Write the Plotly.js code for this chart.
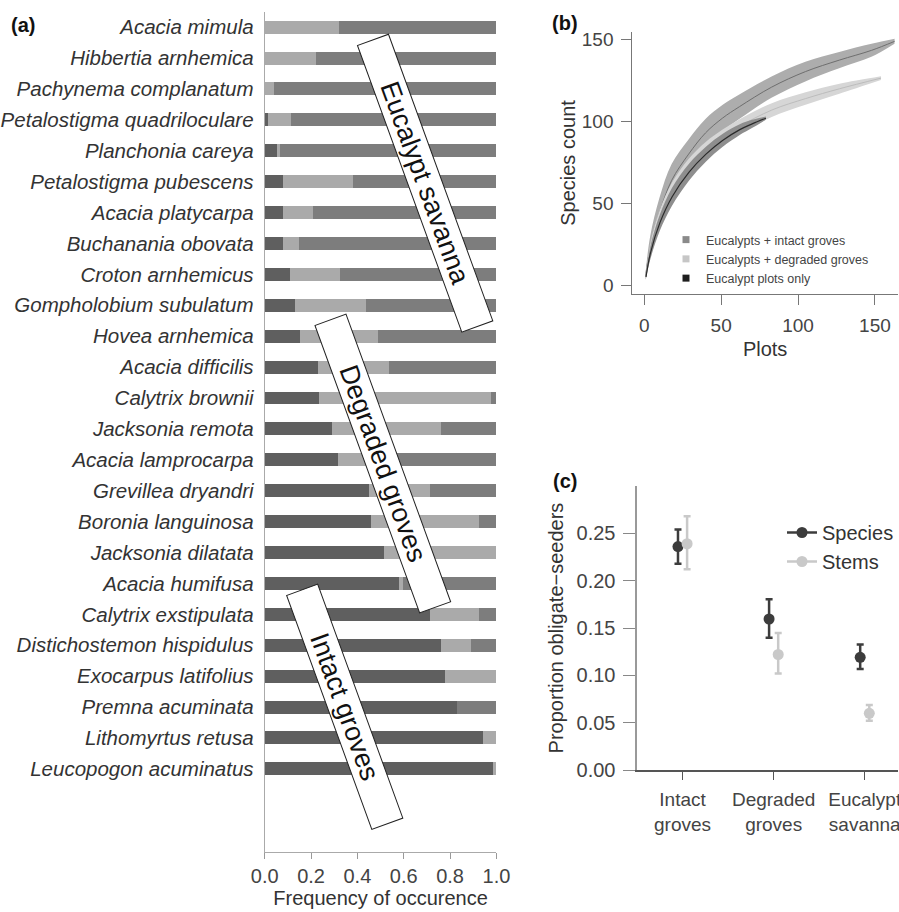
<!DOCTYPE html>
<html>
<head>
<meta charset="utf-8">
<script src="https://cdn.plot.ly/plotly-3.0.1.min.js"></script>
<style>html,body{margin:0;padding:0;background:#fff;}#chart{width:899px;height:912px;}</style>
</head>
<body>
<div id="chart"></div>
<script>
// ---------- Panel (a): frequency of occurrence ----------
const species = ["Acacia mimula","Hibbertia arnhemica","Pachynema complanatum","Petalostigma quadriloculare","Planchonia careya","Petalostigma pubescens","Acacia platycarpa","Buchanania obovata","Croton arnhemicus","Gompholobium subulatum","Hovea arnhemica","Acacia difficilis","Calytrix brownii","Jacksonia remota","Acacia lamprocarpa","Grevillea dryandri","Boronia languinosa","Jacksonia dilatata","Acacia humifusa","Calytrix exstipulata","Distichostemon hispidulus","Exocarpus latifolius","Premna acuminata","Lithomyrtus retusa","Leucopogon acuminatus"];
const freqIntact   = [0, 0, 0, 0.015, 0.055, 0.08, 0.08, 0.08, 0.107, 0.13, 0.153, 0.228, 0.235, 0.289, 0.316, 0.45, 0.46, 0.515, 0.58, 0.713, 0.762, 0.779, 0.83, 0.944, 0.984];
const freqDegraded = [0.32, 0.22, 0.04, 0.10, 0.012, 0.30, 0.13, 0.07, 0.22, 0.305, 0.336, 0.31, 0.742, 0.47, 0.164, 0.265, 0.465, 0.485, 0.017, 0.213, 0.13, 0.221, 0, 0.056, 0.016];
const freqEucalypt = [0.68, 0.78, 0.96, 0.885, 0.933, 0.62, 0.79, 0.85, 0.673, 0.565, 0.511, 0.462, 0.023, 0.241, 0.52, 0.285, 0.075, 0, 0.403, 0.074, 0.108, 0, 0.17, 0, 0];
const freqTicks = [0, 0.2, 0.4, 0.6, 0.8, 1.0];

// ---------- Panel (b): rarefaction curves ----------
const plotsIntact = [1, 4, 10, 18, 29, 40, 51, 62, 83, 105, 127, 148, 163];
const meanIntact  = [5, 23, 44, 64, 80, 93, 102, 109, 121, 130.5, 137.5, 143.5, 149];
const lowIntact   = [3, 16.5, 35, 54, 71, 84.5, 94, 101.5, 114.5, 124.5, 132.5, 139.5, 147.5];
const highIntact  = [7, 29.5, 53, 74, 89, 101.5, 110, 116.5, 127.5, 136.5, 142.5, 147.5, 150.5];

const plotsDegr = [1, 4, 10, 18, 29, 40, 51, 62, 83, 105, 127, 154];
const meanDegr  = [5, 21, 40, 57, 72, 82.5, 90.5, 97, 107, 114, 120, 126.5];
const lowDegr   = [3.5, 16.5, 34.5, 51.5, 66.8, 77.5, 85.9, 92.6, 102.8, 110.2, 116.9, 125.3];
const highDegr  = [6.5, 25.5, 45.5, 62.5, 77.2, 87.5, 95.1, 101.4, 111.2, 117.8, 123.1, 127.7];

const plotsEuc = [1, 4, 10, 18, 29, 40, 51, 62, 70, 79];
const meanEuc  = [5, 20, 38, 54, 69, 80, 88.5, 95, 98.5, 102];
const lowEuc   = [3.5, 16, 33, 48.5, 63.8, 75.4, 84.5, 91.7, 96, 101];
const highEuc  = [6.5, 24, 43, 59.5, 74.2, 84.6, 92.5, 98.3, 101, 103];
const rarefNames = ["Eucalypts + intact groves", "Eucalypts + degraded groves", "Eucalypt plots only"];
const countTicks = [0, 50, 100, 150];

// ---------- Panel (c): proportion obligate seeders ----------
const habitats = ["Intact<br>groves", "Degraded<br>groves", "Eucalypt<br>savanna"];
const propSpecies      = [0.236, 0.1595, 0.119];
const propSpeciesUp    = [0.018, 0.021, 0.0137];
const propSpeciesDown  = [0.018, 0.0197, 0.0123];
const propStems        = [0.239, 0.122, 0.0599];
const propStemsUp      = [0.029, 0.0227, 0.0088];
const propStemsDown    = [0.027, 0.020, 0.0079];
const propTicks = [0, 0.05, 0.10, 0.15, 0.20, 0.25];

// ---------- helpers ----------
const W = 899, H = 912;
const fx = p => p / W;
const fy = p => 1 - p / H;
const FONT = "Liberation Sans, Arial, Helvetica, sans-serif";

const traces = [];

// Panel (a) stacked bars
[[freqIntact, "#5f5f5f"], [freqDegraded, "#aaaaaa"], [freqEucalypt, "#7d7d7d"]].forEach(([vals, col]) => {
  traces.push({type: "bar", orientation: "h", x: vals, y: species, xaxis: "x", yaxis: "y",
    marker: {color: col, line: {width: 0}}, showlegend: false, hoverinfo: "skip"});
});

// Panel (b) bands + centre lines
function band(xs, lo, hi, mid, fillc, linec, lw) {
  traces.push({type: "scatter", mode: "lines", x: xs, y: lo, xaxis: "x2", yaxis: "y2",
    line: {width: 0, shape: "spline", color: fillc}, showlegend: false, hoverinfo: "skip"});
  traces.push({type: "scatter", mode: "lines", x: xs, y: hi, xaxis: "x2", yaxis: "y2", fill: "tonexty",
    fillcolor: fillc, line: {width: 0, shape: "spline", color: fillc}, showlegend: false, hoverinfo: "skip"});
  traces.push({type: "scatter", mode: "lines", x: xs, y: mid, xaxis: "x2", yaxis: "y2",
    line: {width: lw, shape: "spline", color: linec}, showlegend: false, hoverinfo: "skip"});
}
band(plotsIntact, lowIntact, highIntact, meanIntact, "#adadad", "#6e6e6e", 1);
band(plotsDegr, lowDegr, highDegr, meanDegr, "#d6d6d6", "#bcbcbc", 1);
band(plotsEuc, lowEuc, highEuc, meanEuc, "#8e8e8e", "#2b2b2b", 1.2);

// Panel (b) legend keys
[["#8a8a8a", rarefNames[0]], ["#c6c6c6", rarefNames[1]], ["#1e1e1e", rarefNames[2]]].forEach(([col, nm]) => {
  traces.push({type: "scatter", mode: "markers", x: [null], y: [null], xaxis: "x2", yaxis: "y2",
    marker: {symbol: "square", size: 7, color: col}, name: nm, legend: "legend", showlegend: true});
});

// Panel (c) points with error bars
const spCol = "#3c3c3c", stCol = "#c9c9c9";
traces.push({type: "scatter", mode: "markers", x: habitats, y: propSpecies, xaxis: "x3", yaxis: "y3",
  offsetgroup: "sp", marker: {size: 11, color: spCol},
  error_y: {type: "data", symmetric: false, array: propSpeciesUp, arrayminus: propSpeciesDown, color: spCol, thickness: 2.5, width: 3.5},
  showlegend: false, hoverinfo: "skip"});
traces.push({type: "scatter", mode: "markers", x: habitats, y: propStems, xaxis: "x3", yaxis: "y3",
  offsetgroup: "st", marker: {size: 11, color: stCol},
  error_y: {type: "data", symmetric: false, array: propStemsUp, arrayminus: propStemsDown, color: stCol, thickness: 2.5, width: 3.5},
  showlegend: false, hoverinfo: "skip"});
traces.push({type: "scatter", mode: "lines+markers", x: [null], y: [null], xaxis: "x3", yaxis: "y3",
  offsetgroup: "sp", name: "Species", legend: "legend2", marker: {size: 11, color: spCol}, line: {color: spCol, width: 2.5}});
traces.push({type: "scatter", mode: "lines+markers", x: [null], y: [null], xaxis: "x3", yaxis: "y3",
  offsetgroup: "st", name: "Stems", legend: "legend2", marker: {size: 11, color: stCol}, line: {color: stCol, width: 2.5}});

const tickCol = "#444";
const boxStyle = {xref: "paper", yref: "paper", xanchor: "center", yanchor: "middle", showarrow: false, textangle: 70,
  height: 32, bgcolor: "#fff", bordercolor: "#222", borderwidth: 1, borderpad: 0, font: {size: 27, color: "#111"}};
const layout = {
  width: W, height: H,
  margin: {l: 0, r: 0, t: 0, b: 0},
  paper_bgcolor: "#fff", plot_bgcolor: "#fff",
  font: {family: FONT, color: "#333"},
  barmode: "stack", bargap: 0.58,
  scattermode: "group", scattergap: 0.8,
  hovermode: false,
  xaxis: {domain: [fx(265), fx(497)], anchor: "y", range: [0, 1], tickvals: freqTicks, tickformat: ".1f",
    ticks: "outside", ticklen: 6, tickcolor: "#999", showline: true, linecolor: "#aaa", linewidth: 1,
    showgrid: false, zeroline: false, tickfont: {size: 20, color: tickCol},
    title: {text: "Frequency of occurence", font: {size: 20, color: "#333"}, standoff: 4}},
  yaxis: {domain: [fy(852), fy(12)], anchor: "x", type: "category", categoryorder: "array", categoryarray: species,
    range: [26.69, -0.49], autorange: false, showline: true, linecolor: "#aaa", linewidth: 1, ticks: "",
    showgrid: false, zeroline: false, ticklabelstandoff: 6,
    tickfont: {size: 20.5, color: "#333", style: "italic"}},
  xaxis2: {domain: [fx(633), 1], anchor: "y2", range: [-7.8, 165], tickvals: countTicks,
    ticks: "outside", ticklen: 10, tickcolor: "#777", showline: true, linecolor: "#777", linewidth: 1,
    showgrid: false, zeroline: false, tickfont: {size: 19, color: tickCol}, ticklabelstandoff: 4,
    title: {text: "Plots", font: {size: 20, color: "#333"}, standoff: 7}},
  yaxis2: {domain: [fy(294), fy(32)], anchor: "x2", range: [-5.5, 154.7], tickvals: countTicks,
    ticks: "outside", ticklen: 10, tickcolor: "#777", showline: true, linecolor: "#777", linewidth: 1,
    showgrid: false, zeroline: false, tickfont: {size: 19, color: tickCol}, ticklabelstandoff: 4,
    title: {text: "Species count", font: {size: 20, color: "#333"}, standoff: 0}},
  xaxis3: {domain: [fx(637.7), 1], anchor: "y3", type: "category", categoryorder: "array", categoryarray: habitats,
    range: [-0.5, 2.365], ticks: "outside", ticklen: 8, tickcolor: "#555", showline: true, linecolor: "#555", linewidth: 1.5,
    showgrid: false, zeroline: false, tickfont: {size: 19, color: tickCol}, ticklabelstandoff: 4},
  yaxis3: {domain: [fy(770), fy(486)], anchor: "x3", range: [0, 0.3], tickvals: propTicks, tickformat: ".2f",
    ticks: "outside", ticklen: 12, tickcolor: "#888", showline: true, linecolor: "#999", linewidth: 1.5,
    showgrid: false, zeroline: false, tickfont: {size: 20, color: tickCol}, ticklabelstandoff: 4,
    title: {text: "Proportion obligate\u2212seeders", font: {size: 20, color: "#333"}, standoff: 7}},
  legend: {x: fx(666), y: fy(225), xanchor: "left", yanchor: "top", bgcolor: "rgba(0,0,0,0)", traceorder: "normal",
    font: {size: 12.5, color: "#444"}, tracegroupgap: 0, itemwidth: 30},
  legend2: {x: fx(783), y: fy(513), xanchor: "left", yanchor: "top", bgcolor: "rgba(0,0,0,0)", traceorder: "normal",
    font: {size: 20, color: "#333"}, tracegroupgap: 0, itemwidth: 30},
  annotations: [
    {text: "<b>(a)</b>", xref: "paper", yref: "paper", x: fx(9), y: fy(25), xanchor: "left", yanchor: "middle",
      showarrow: false, font: {size: 20, color: "#111"}},
    {text: "<b>(b)</b>", xref: "paper", yref: "paper", x: fx(551), y: fy(23), xanchor: "left", yanchor: "middle",
      showarrow: false, font: {size: 20, color: "#111"}},
    {text: "<b>(c)</b>", xref: "paper", yref: "paper", x: fx(552), y: fy(481), xanchor: "left", yanchor: "middle",
      showarrow: false, font: {size: 20, color: "#111"}},
    Object.assign({text: "Eucalypt savanna", x: fx(425.4), y: fy(183.2), width: 304}, boxStyle),
    Object.assign({text: "Degraded groves", x: fx(383.4), y: fy(464), width: 305}, boxStyle),
    Object.assign({text: "Intact groves", x: fx(345.4), y: fy(706.7), width: 248}, boxStyle)
  ]
};

Plotly.newPlot("chart", traces, layout, {staticPlot: true, displayModeBar: false});
</script>
</body>
</html>
